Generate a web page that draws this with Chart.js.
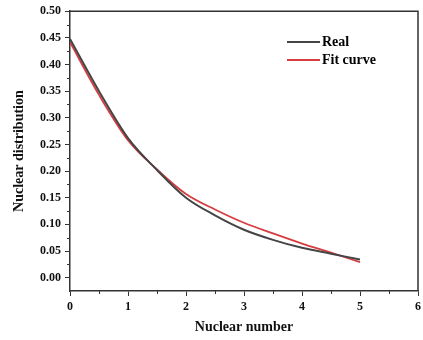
<!DOCTYPE html>
<html>
<head>
<meta charset="utf-8">
<script src="https://cdn.jsdelivr.net/npm/chart.js@4"></script>
<style>
  html, body { margin: 0; padding: 0; background: #fff; }
  #wrap { width: 423px; height: 340px; position: relative; }
</style>
</head>
<body>
<div id="wrap"><canvas id="c" width="423" height="340"></canvas></div>
<script>
// ---- data ----
const xValues = [0, 0.5, 1, 1.5, 2, 2.5, 3, 3.5, 4, 4.5, 5];
const realValues = [0.448, 0.350, 0.262, 0.202, 0.150, 0.117, 0.090, 0.071, 0.056, 0.045, 0.034];
const fitValues  = [0.442, 0.343, 0.258, 0.203, 0.157, 0.128, 0.103, 0.083, 0.064, 0.047, 0.029];
const seriesNames = ['Real', 'Fit curve'];
const xTickValues = [0, 1, 2, 3, 4, 5, 6];
const yTickValues = [0, 0.05, 0.10, 0.15, 0.20, 0.25, 0.30, 0.35, 0.40, 0.45, 0.50];
const xMinorTicks = [0.5, 1.5, 2.5, 3.5, 4.5, 5.5];
const yMinorTicks = [0.025, 0.075, 0.125, 0.175, 0.225, 0.275, 0.325, 0.375, 0.425, 0.475];
const xTitle = 'Nuclear number';
const yTitle = 'Nuclear distribution';

const FONT = '"Liberation Serif", "Times New Roman", serif';
const AXIS = '#333333';
const REAL_COLOR = '#454545';
const FIT_COLOR = '#d63c40';

const toPts = (vals) => xValues.map((x, i) => ({ x: x, y: vals[i] }));

const framePlugin = {
  id: 'frame',
  afterDraw(chart) {
    const ctx = chart.ctx;
    const a = chart.chartArea;
    const xs = chart.scales.x, ys = chart.scales.y;
    ctx.save();
    ctx.strokeStyle = AXIS;
    ctx.lineWidth = 1.5;
    ctx.beginPath();
    ctx.moveTo(a.left, a.top);
    ctx.lineTo(a.right, a.top);
    ctx.lineTo(a.right, a.bottom);
    ctx.stroke();
    // minor ticks
    ctx.lineWidth = 1;
    ctx.beginPath();
    xMinorTicks.forEach(v => {
      const px = Math.round(xs.getPixelForValue(v)) + 0.5;
      ctx.moveTo(px, a.bottom);
      ctx.lineTo(px, a.bottom + 3);
    });
    yMinorTicks.forEach(v => {
      const py = Math.round(ys.getPixelForValue(v)) + 0.5;
      ctx.moveTo(a.left, py);
      ctx.lineTo(a.left - 3, py);
    });
    ctx.stroke();
    // legend
    const ds = chart.data.datasets;
    const lx = 287, ly = 42, gap = 18;
    ds.forEach((d, i) => {
      const y = ly + i * gap;
      ctx.strokeStyle = d.borderColor;
      ctx.lineWidth = 2;
      ctx.beginPath();
      ctx.moveTo(lx, y);
      ctx.lineTo(lx + 33, y);
      ctx.stroke();
      ctx.fillStyle = '#000';
      ctx.font = 'bold 14px ' + FONT;
      ctx.textBaseline = 'middle';
      ctx.textAlign = 'left';
      ctx.fillText(d.label, lx + 35, y);
    });
    ctx.restore();
  }
};

new Chart(document.getElementById('c'), {
  type: 'line',
  data: {
    datasets: [
      { label: seriesNames[0], data: toPts(realValues), borderColor: REAL_COLOR, borderWidth: 2, pointRadius: 0, cubicInterpolationMode: 'monotone', fill: false },
      { label: seriesNames[1], data: toPts(fitValues), borderColor: FIT_COLOR, borderWidth: 1.8, pointRadius: 0, cubicInterpolationMode: 'monotone', fill: false }
    ]
  },
  options: {
    responsive: false,
    animation: false,
    devicePixelRatio: 1,
    layout: { padding: { top: 11, right: 5, left: 0, bottom: 0 } },
    plugins: { legend: { display: false }, tooltip: { enabled: false } },
    scales: {
      x: {
        type: 'linear', min: 0, max: 6,
        afterBuildTicks: s => { s.ticks = xTickValues.map(v => ({ value: v })); },
        afterFit: s => { s.height = 49; s.paddingRight = 0; s.paddingLeft = 0; },
        border: { display: true, color: AXIS, width: 1.5 },
        grid: { display: true, drawOnChartArea: false, drawTicks: true, tickLength: 5, color: AXIS, lineWidth: 1 },
        ticks: { color: '#111', font: { family: FONT, size: 12, weight: 'bold' }, padding: 4, maxRotation: 0, autoSkip: false,
                 callback: v => String(v) },
        title: { display: true, text: xTitle, color: '#111', font: { family: FONT, size: 14, weight: 'bold' }, padding: { top: 2, bottom: 4 } }
      },
      y: {
        type: 'linear', min: -0.025, max: 0.5,
        afterBuildTicks: s => { s.ticks = yTickValues.map(v => ({ value: v })); },
        afterFit: s => { s.width = 70; },
        border: { display: true, color: AXIS, width: 1.5 },
        grid: { display: true, drawOnChartArea: false, drawTicks: true, tickLength: 5, color: AXIS, lineWidth: 1 },
        ticks: { color: '#111', font: { family: FONT, size: 12, weight: 'bold' }, padding: 4, autoSkip: false,
                 callback: v => Number(v).toFixed(2) },
        title: { display: true, text: yTitle, color: '#111', font: { family: FONT, size: 14, weight: 'bold' }, padding: { top: 11, bottom: 0 } }
      }
    }
  },
  plugins: [framePlugin]
});
</script>
</body>
</html>
